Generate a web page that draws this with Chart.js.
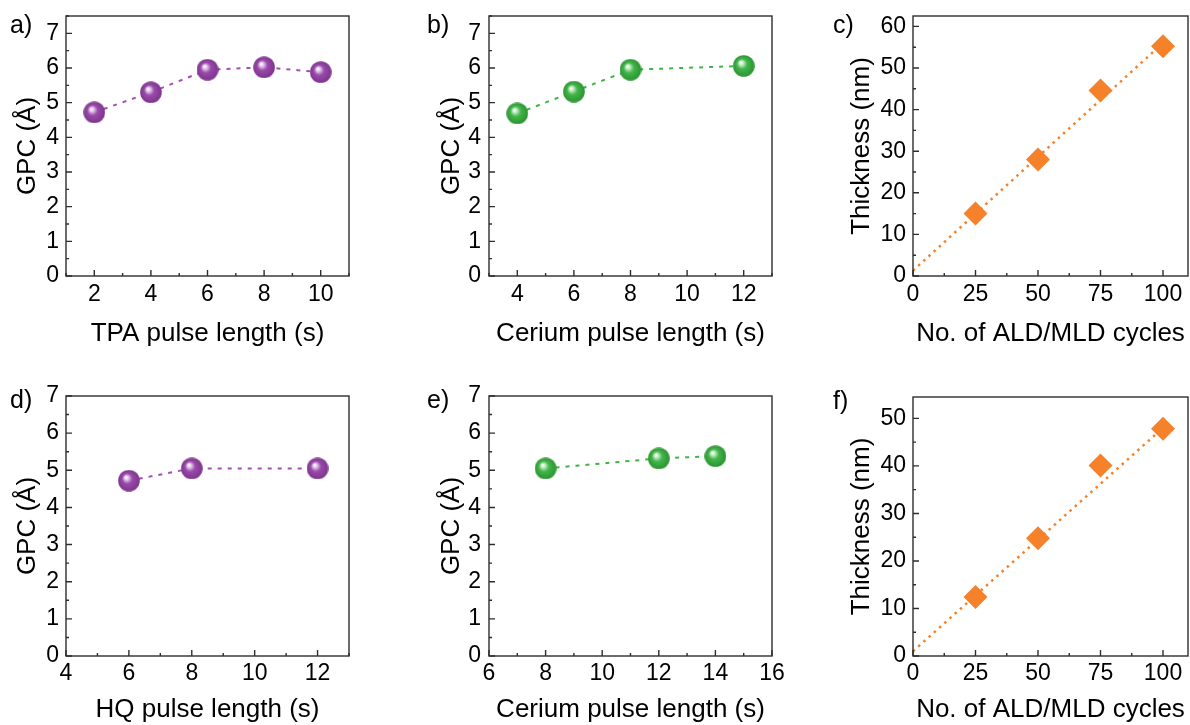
<!DOCTYPE html>
<html>
<head>
<meta charset="utf-8">
<script src="https://cdn.jsdelivr.net/npm/chart.js@4/dist/chart.umd.min.js"></script>
<style>
  html, body { margin: 0; padding: 0; background: #fff; }
  #fig { position: relative; width: 1190px; height: 725px; overflow: hidden; }
  #fig canvas { position: absolute; }
</style>
</head>
<body>
<div id="fig"></div>
<script>
// a) GPC vs TPA pulse length
var tpaPulse = [2, 4, 6, 8, 10];
var tpaGpc = [4.72, 5.30, 5.95, 6.02, 5.88];

// b) GPC vs cerium pulse length (TPA process)
var ceriumPulseB = [4, 6, 8, 12];
var ceriumGpcB = [4.69, 5.32, 5.95, 6.06];

// c) thickness vs cycles (TPA process) and its linear fit
var cyclesC = [25, 50, 75, 100];
var thicknessC = [15.0, 28.0, 44.6, 55.2];
var fitCyclesC = [0, 100];
var fitThicknessC = [1.3, 56.0];

// d) GPC vs HQ pulse length
var hqPulse = [6, 8, 12];
var hqGpc = [4.72, 5.05, 5.05];

// e) GPC vs cerium pulse length (HQ process)
var ceriumPulseE = [8, 12, 14];
var ceriumGpcE = [5.05, 5.32, 5.38];

// f) thickness vs cycles (HQ process) and its linear fit
var cyclesF = [25, 50, 75, 100];
var thicknessF = [12.4, 24.8, 40.1, 47.8];
var fitCyclesF = [0, 100];
var fitThicknessF = [1.0, 48.0];

var purple = '#a24fb3';
var green = '#3db446';
var orange = '#f5822a';

Chart.defaults.font.family = '"Liberation Sans", Arial, sans-serif';
Chart.defaults.color = '#000';

function xy(xs, ys) {
    return xs.map(function (x, i) { return { x: x, y: ys[i] }; });
}

// Shiny ball used as the marker for the GPC series.
function sphere(light, base, dark) {
    var c = document.createElement('canvas');
    c.width = 22;
    c.height = 22;
    var g = c.getContext('2d');
    var grad = g.createRadialGradient(8, 7.5, 0.3, 11, 11, 11);
    grad.addColorStop(0, '#ffffff');
    grad.addColorStop(0.16, light);
    grad.addColorStop(0.45, base);
    grad.addColorStop(1, dark);
    g.fillStyle = grad;
    g.beginPath();
    g.arc(11, 11, 10.8, 0, Math.PI * 2);
    g.fill();
    return c;
}
var purpleBall = sphere('#e6cbee', '#9a4aab', '#7b358a');
var greenBall = sphere('#c8eec8', '#42b64a', '#2b9231');

function gpcSeries(xs, ys, ball, color) {
    return {
        data: xy(xs, ys),
        showLine: true,
        borderColor: color,
        borderWidth: 2,
        borderDash: [4, 6],
        pointStyle: ball,
        pointRadius: 10
    };
}

function thicknessSeries(xs, ys, fx, fy) {
    return [{
        data: xy(xs, ys),
        pointStyle: 'rectRot',
        pointRadius: 12,
        backgroundColor: orange,
        borderWidth: 0
    }, {
        data: xy(fx, fy),
        showLine: true,
        pointRadius: 0,
        borderColor: orange,
        borderWidth: 2.5,
        borderDash: [2.5, 4.5]
    }];
}

// Box around the plot area plus inward tick marks (long ones where a label sits).
var framePlugin = {
    id: 'frame',
    afterDatasetsDraw: function (chart) {
        var ctx = chart.ctx;
        var a = chart.chartArea;
        var x = chart.scales.x;
        var y = chart.scales.y;
        ctx.save();
        ctx.strokeStyle = '#2e2e2e';
        ctx.lineWidth = 1.4;
        ctx.strokeRect(a.left, a.top, a.right - a.left, a.bottom - a.top);
        ctx.beginPath();
        x.ticks.forEach(function (t) {
            var px = x.getPixelForValue(t.value);
            var len = t.label !== '' ? 6 : 3;
            ctx.moveTo(px, a.bottom);
            ctx.lineTo(px, a.bottom - len);
        });
        y.ticks.forEach(function (t) {
            var py = y.getPixelForValue(t.value);
            var len = t.label !== '' ? 6 : 3;
            ctx.moveTo(a.left, py);
            ctx.lineTo(a.left + len, py);
        });
        ctx.stroke();
        ctx.restore();
    }
};

// Panel letter in the top left corner.
var letterPlugin = {
    id: 'letter',
    afterDraw: function (chart, args, opts) {
        var ctx = chart.ctx;
        ctx.save();
        ctx.font = '25px "Liberation Sans", Arial, sans-serif';
        ctx.fillStyle = '#000';
        ctx.textBaseline = 'middle';
        ctx.fillText(opts.text, opts.x, opts.y);
        ctx.restore();
    }
};

function axis(o, titlePad, isX) {
    return {
        type: 'linear',
        min: o.min,
        max: o.max,
        afterFit: function (s) {
            if (isX) {
                s.height = o.size;
                s.paddingLeft = 0;
                s.paddingRight = 0;
            } else {
                s.width = o.size;
                s.paddingTop = 0;
                s.paddingBottom = 0;
            }
        },
        ticks: {
            stepSize: o.step,
            includeBounds: false,
            autoSkip: false,
            maxRotation: 0,
            padding: o.tickPad,
            font: { size: 23 },
            callback: function (v) { return v % o.major === 0 ? String(v) : ''; }
        },
        grid: { display: false, drawTicks: false },
        border: { display: false },
        title: {
            display: true,
            text: o.title,
            font: { size: 26 },
            padding: titlePad
        }
    };
}

function panel(p) {
    var cv = document.createElement('canvas');
    cv.width = p.box[2];
    cv.height = p.box[3];
    cv.style.left = p.box[0] + 'px';
    cv.style.top = p.box[1] + 'px';
    document.getElementById('fig').appendChild(cv);
    return new Chart(cv, {
        type: 'scatter',
        data: { datasets: p.datasets },
        options: {
            responsive: false,
            animation: false,
            events: [],
            layout: { padding: { top: p.top, right: p.right, left: 0, bottom: 0 } },
            plugins: {
                legend: { display: false },
                tooltip: { enabled: false },
                letter: p.letter
            },
            scales: {
                x: axis(p.x, { top: 0, bottom: p.x.titlePad }, true),
                y: axis(p.y, { top: p.y.titlePad, bottom: 0 }, false)
            }
        },
        plugins: [framePlugin, letterPlugin]
    });
}

var gpcTitle = 'GPC (Å)';
var thickTitle = 'Thickness (nm)';
var cycleTitle = 'No. of ALD/MLD cycles';

panel({
    box: [0, 0, 365, 350], top: 16, right: 16,
    letter: { text: 'a)', x: 10, y: 26 },
    datasets: [gpcSeries(tpaPulse, tpaGpc, purpleBall, purple)],
    x: { min: 1, max: 11, step: 1, major: 2, size: 74, tickPad: 5, titlePad: 1, title: 'TPA pulse length (s)' },
    y: { min: 0, max: 7.5, step: 0.5, major: 1, size: 66, tickPad: 7, titlePad: 12, title: gpcTitle }
});

panel({
    box: [400, 0, 390, 350], top: 16, right: 18,
    letter: { text: 'b)', x: 27, y: 26 },
    datasets: [gpcSeries(ceriumPulseB, ceriumGpcB, greenBall, green)],
    x: { min: 3, max: 13, step: 1, major: 2, size: 74, tickPad: 5, titlePad: 1, title: 'Cerium pulse length (s)' },
    y: { min: 0, max: 7.5, step: 0.5, major: 1, size: 89, tickPad: 8, titlePad: 36, title: gpcTitle }
});

panel({
    box: [800, 0, 400, 350], top: 16, right: 5,
    letter: { text: 'c)', x: 33, y: 26 },
    datasets: thicknessSeries(cyclesC, thicknessC, fitCyclesC, fitThicknessC),
    x: { min: 0, max: 110, step: 12.5, major: 25, size: 74, tickPad: 5, titlePad: 1, title: cycleTitle },
    y: { min: 0, max: 62.5, step: 5, major: 10, size: 113, tickPad: 7, titlePad: 46, title: thickTitle }
});

panel({
    box: [0, 370, 365, 355], top: 26, right: 16,
    letter: { text: 'd)', x: 10, y: 31 },
    datasets: [gpcSeries(hqPulse, hqGpc, purpleBall, purple)],
    x: { min: 4, max: 13, step: 1, major: 2, size: 69, tickPad: 4, titlePad: 0, title: 'HQ pulse length (s)' },
    y: { min: 0, max: 7, step: 0.5, major: 1, size: 66, tickPad: 7, titlePad: 12, title: gpcTitle }
});

panel({
    box: [400, 370, 395, 355], top: 26, right: 23,
    letter: { text: 'e)', x: 27, y: 31 },
    datasets: [gpcSeries(ceriumPulseE, ceriumGpcE, greenBall, green)],
    x: { min: 6, max: 16, step: 1, major: 2, size: 69, tickPad: 4, titlePad: 0, title: 'Cerium pulse length (s)' },
    y: { min: 0, max: 7, step: 0.5, major: 1, size: 89, tickPad: 8, titlePad: 36, title: gpcTitle }
});

panel({
    box: [800, 370, 400, 355], top: 27, right: 5,
    letter: { text: 'f)', x: 33, y: 32 },
    datasets: thicknessSeries(cyclesF, thicknessF, fitCyclesF, fitThicknessF),
    x: { min: 0, max: 110, step: 12.5, major: 25, size: 69, tickPad: 4, titlePad: 0, title: cycleTitle },
    y: { min: 0, max: 54.5, step: 5, major: 10, size: 113, tickPad: 7, titlePad: 46, title: thickTitle }
});
</script>
</body>
</html>
